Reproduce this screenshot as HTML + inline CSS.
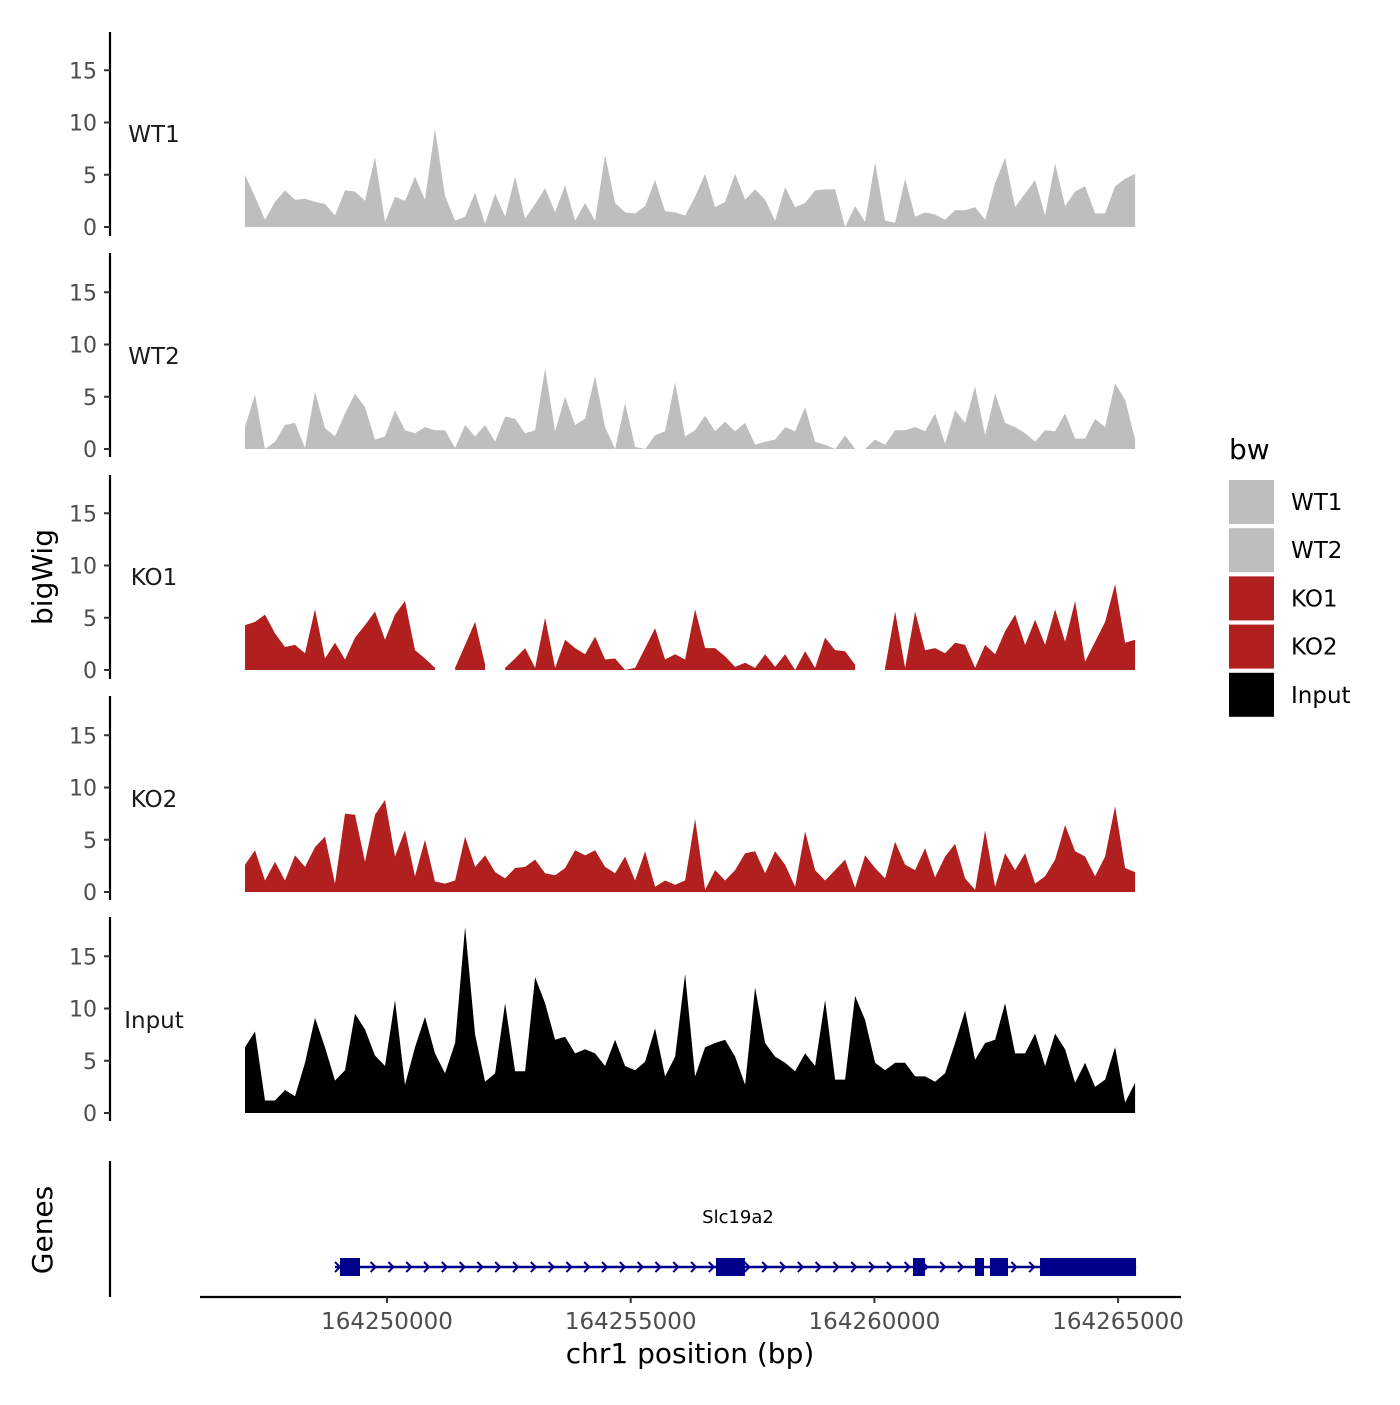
<!DOCTYPE html>
<html><head><meta charset="utf-8"><style>
body{margin:0;background:#fff}
svg text{font-family:"DejaVu Sans","Liberation Sans",sans-serif}
</style></head><body>
<svg id="chart" width="1400" height="1400" viewBox="0 0 1400 1400" xmlns="http://www.w3.org/2000/svg"></svg>
<script>
const trackNames = ["WT1","WT2","KO1","KO2","Input"];
const trackColors = ["#bebebe","#bebebe","#b21f1f","#b21f1f","#000000"];
const binStart = 164247087;
const binSize = 205.2;
const wt1 = [5.0,2.9,0.7,2.4,3.5,2.6,2.7,2.4,2.2,1.1,3.5,3.4,2.5,6.7,0.5,2.9,2.5,4.8,2.6,9.4,3,0.6,1.0,3.3,0.3,3.2,1.0,4.8,0.8,2.2,3.7,1.4,4.0,0.6,2.3,0.6,6.9,2.3,1.4,1.3,2.0,4.5,1.5,1.4,1.1,2.9,5.1,1.9,2.4,5.1,2.6,3.6,2.6,0.6,3.8,1.9,2.3,3.5,3.6,3.6,0,2.0,0.5,6.2,0.6,0.4,4.6,1.0,1.4,1.2,0.7,1.6,1.6,1.9,0.7,4.2,6.6,1.9,3.2,4.5,1.1,6.1,2.0,3.4,3.9,1.3,1.3,3.9,4.6,5.1];
const wt2 = [2.1,5.2,0,0.7,2.3,2.5,0.1,5.5,2.0,1.2,3.4,5.3,4.0,0.9,1.2,3.7,1.8,1.5,2.1,1.8,1.8,0.1,2.3,1.2,2.3,0.7,3.1,2.9,1.5,1.8,7.7,1.7,5.0,2.3,2.9,7.0,2.1,0,4.4,0.2,0,1.3,1.7,6.4,1.2,1.8,3.2,1.7,2.6,1.7,2.5,0.4,0.7,0.9,2.1,1.7,4.0,0.7,0.4,0,1.3,0,0,0.9,0.4,1.8,1.8,2.1,1.7,3.4,0.5,3.7,2.5,6.0,1.3,5.3,2.5,2.1,1.5,0.7,1.8,1.7,3.4,1.0,1.0,2.9,2.1,6.3,4.7,0.9];
const ko1 = [4.3,4.6,5.3,3.5,2.2,2.4,1.6,5.8,1.1,2.6,1.0,3.1,4.3,5.6,2.9,5.3,6.6,1.9,1.1,0.2,null,0.2,2.4,4.6,0.5,null,0.2,1.1,2.1,0.2,5.0,0.2,2.9,2.1,1.5,3.2,1.0,1.1,0,0.2,2.1,4.0,1.0,1.5,1.0,5.8,2.1,2.1,1.3,0.3,0.7,0.2,1.5,0.3,1.5,0,1.8,0.2,3.1,1.9,1.8,0.5,null,null,0.2,5.6,0.2,5.6,1.9,2.1,1.6,2.6,2.4,0.2,2.4,1.5,3.7,5.3,2.4,4.8,2.4,5.8,2.7,6.6,0.8,2.7,4.6,8.2,2.6,2.9];
const ko2 = [2.6,4.0,1.1,2.9,1.1,3.5,2.4,4.3,5.3,0.8,7.5,7.4,2.9,7.4,8.8,3.4,5.9,1.5,5.0,1.0,0.8,1.1,5.3,2.4,3.5,1.9,1.3,2.3,2.4,3.1,1.8,1.6,2.3,4.0,3.5,4.0,2.4,1.8,3.4,1.1,3.9,0.5,1.1,0.7,1.1,7.0,0.2,2.1,1.1,2.1,3.7,3.9,1.8,3.9,2.6,0.5,5.8,2.1,1.1,2.1,3.1,0.4,3.5,2.3,1.3,4.8,2.6,2.1,4.2,1.4,3.4,4.6,1.3,0.2,5.9,0.5,3.7,2.1,3.7,0.8,1.5,3.1,6.4,3.9,3.4,1.5,3.4,8.2,2.3,1.9];
const input = [6.3,7.8,1.2,1.2,2.2,1.6,4.8,9.1,6.3,3.1,4.1,9.5,8.0,5.5,4.5,10.8,2.7,6.3,9.2,5.7,3.8,6.7,17.8,7.5,3.0,3.8,10.5,4.0,4.0,13.0,10.5,7.0,7.3,5.7,6.1,5.7,4.5,7.0,4.5,4.1,4.9,8.1,3.5,5.4,13.3,3.5,6.3,6.7,7.0,5.4,2.7,12.0,6.7,5.4,4.8,4.0,5.7,4.5,10.8,3.2,3.2,11.2,8.9,4.8,4.1,4.8,4.8,3.5,3.5,3.0,3.8,6.7,9.8,5.1,6.7,7.0,10.5,5.7,5.7,7.6,4.5,7.6,6.1,2.9,4.8,2.5,3.2,6.3,1.0,2.9];
const trackData = [wt1,wt2,ko1,ko2,input];
const yTicks = [0,5,10,15];
const xTicks = [164250000,164255000,164260000,164265000];
const geneName = "Slc19a2";
const geneSpan = [164248933,164265370];
const exonStarts = [164249036,164256750,164260792,164262064,164262372,164263398];
const exonEnds = [164249446,164257345,164261038,164262249,164262741,164265368];

const NS="http://www.w3.org/2000/svg";
const svg=document.getElementById('chart');
function el(tag,attrs,parent){const e=document.createElementNS(NS,tag);for(const k in attrs)e.setAttribute(k,attrs[k]);(parent||svg).appendChild(e);return e;}
const xScale=bp=>387+(bp-164250000)*243.7/5000;
const panelBase=[227,449,670,892,1113];
const panelTop=[32,253,475,696,917];
const pxPerUnit=10.45;

trackData.forEach((vals,t)=>{
  const g=el('g',{});
  
  
  const base=panelBase[t];
  const y=v=>base-v*pxPerUnit;
  const ax=el('line',{x1:110,x2:110,y1:panelTop[t],y2:panelTop[t]+204,stroke:'#000','stroke-width':2.2},g);
  
  
  yTicks.forEach(v=>{
    el('line',{x1:104,x2:110,y1:y(v),y2:y(v),stroke:'#333','stroke-width':2},g);
    const tx=el('text',{x:97,y:y(v)+8,'text-anchor':'end','font-size':22,fill:'#4d4d4d'},g);
    tx.textContent=v;
    
    
  });
  const lb=el('text',{x:154,y:base-85,'text-anchor':'middle','font-size':23,fill:'#1a1a1a'},g);
  lb.textContent=trackNames[t];
  
  
  let seg=[];
  const flush=()=>{
    if(seg.length>1){
      let d='M'+seg[0][0]+','+base;
      seg.forEach(p=>d+=' L'+p[0]+','+p[1]);
      d+=' L'+seg[seg.length-1][0]+','+base+' Z';
      const p=el('path',{d:d,fill:trackColors[t]},g);
      
      
    }
    seg=[];
  };
  vals.forEach((v,i)=>{
    if(v===null){flush();return;}
    seg.push([xScale(binStart+i*binSize).toFixed(1),y(v).toFixed(1)]);
  });
  flush();
});

const yt=el('text',{x:0,y:0,'text-anchor':'middle','font-size':28,fill:'#000',transform:'translate(52,577) rotate(-90)'});
yt.textContent='bigWig';



const gp=el('g',{});


el('line',{x1:110,x2:110,y1:1161,y2:1297,stroke:'#000','stroke-width':2.2},gp);
const gt=el('text',{x:0,y:0,'text-anchor':'middle','font-size':28,fill:'#000',transform:'translate(52,1230) rotate(-90)'},gp);
gt.textContent='Genes';


const gy=1267;
el('line',{x1:xScale(geneSpan[0]),x2:xScale(geneSpan[1]),y1:gy,y2:gy,stroke:'#00008b','stroke-width':2.5},gp);
for(let xx=xScale(geneSpan[0])+3;xx<xScale(geneSpan[1]);xx+=17.8){
  el('polyline',{points:(xx-3)+','+(gy-5)+' '+(xx+2)+','+gy+' '+(xx-3)+','+(gy+5),fill:'none',stroke:'#00008b','stroke-width':2},gp);
}
exonStarts.forEach((s,i)=>{
  const r=el('rect',{x:xScale(s),y:gy-9,width:xScale(exonEnds[i])-xScale(s),height:18,fill:'#00008b'},gp);
  
  
});
const gn=el('text',{x:738,y:1223,'text-anchor':'middle','font-size':18,fill:'#000'},gp);
gn.textContent=geneName;



const xa=el('line',{x1:200,x2:1181,y1:1297,y2:1297,stroke:'#000','stroke-width':2.2});


xTicks.forEach(v=>{
  el('line',{x1:xScale(v),x2:xScale(v),y1:1297,y2:1303,stroke:'#333','stroke-width':2});
  const t=el('text',{x:xScale(v),y:1329,'text-anchor':'middle','font-size':23,fill:'#4d4d4d'});
  t.textContent=v;
  
  
});
const xt=el('text',{x:690,y:1363,'text-anchor':'middle','font-size':28,fill:'#000'});
xt.textContent='chr1 position (bp)';



const lg=el('g',{});


const lt=el('text',{x:1229,y:459,'font-size':28,fill:'#000'},lg);
lt.textContent='bw';
const legendColors=["#bebebe","#bebebe","#b21f1f","#b21f1f","#000000"];
trackNames.forEach((n,i)=>{
  const ky=480+i*48.2;
  const k=el('rect',{x:1229,y:ky,width:45,height:44,fill:legendColors[i]},lg);
  
  
  const tx=el('text',{x:1291,y:ky+30,'font-size':23,fill:'#000'},lg);
  tx.textContent=n;
  
  
});
</script>
</body></html>
